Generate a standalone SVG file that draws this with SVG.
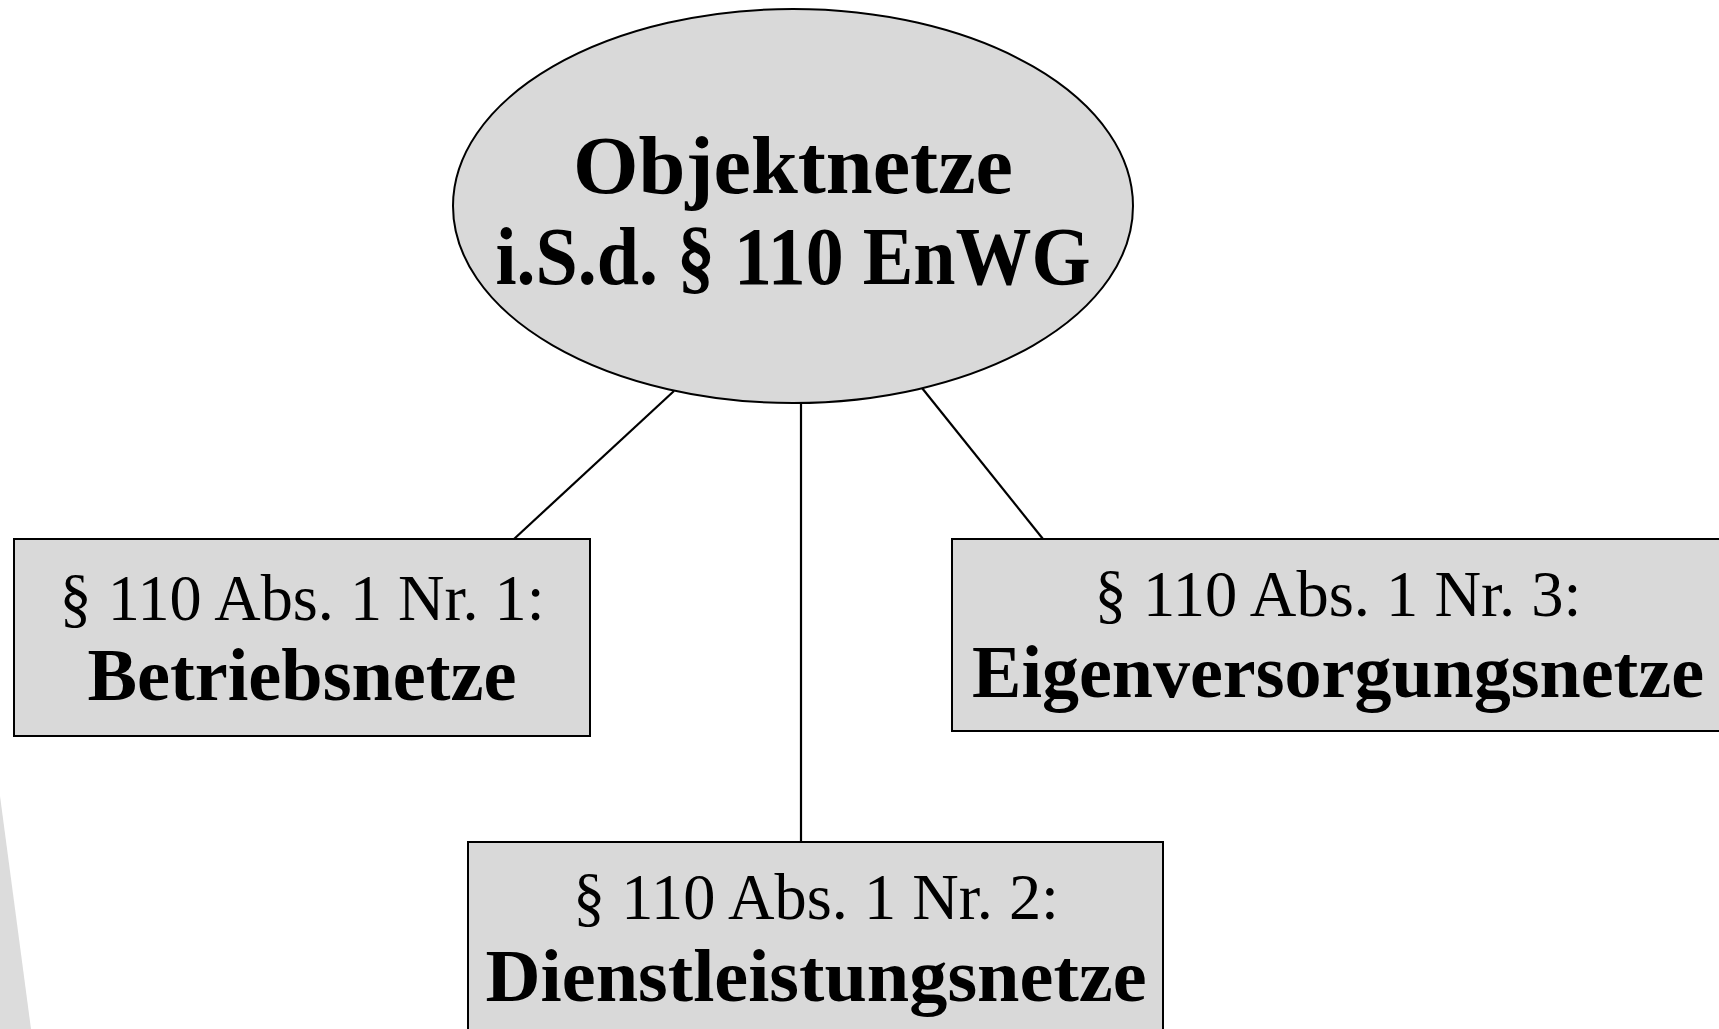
<svg xmlns="http://www.w3.org/2000/svg" width="1719" height="1029" viewBox="0 0 1719 1029">
<style>
.shape{fill:#d9d9d9;stroke:#000;stroke-width:2}
.t{font-family:"Liberation Serif","DejaVu Serif",serif;fill:#000;text-anchor:middle}
.p{font-size:66px}
.b{font-size:74px;font-weight:bold}
.h{font-size:82px;font-weight:bold}
.conn line{stroke:#000;stroke-width:2.2}
</style>
<rect width="1719" height="1029" fill="#fff"/>
<polygon points="0,796 31,1029 0,1029" fill="#dcdcdc"/>
<g id="connectors" class="conn">
<line x1="674" y1="391" x2="514" y2="539"/>
<line x1="801" y1="403" x2="801" y2="842"/>
<line x1="922" y1="388" x2="1043" y2="539"/>
</g>
<g id="node-root">
<ellipse class="shape" cx="793" cy="206" rx="340" ry="197"/>
<text class="t h" x="793" y="193" textLength="440" lengthAdjust="spacingAndGlyphs">Objektnetze</text>
<text class="t h" x="793" y="284" textLength="595" lengthAdjust="spacingAndGlyphs">i.S.d. § 110 EnWG</text>
</g>
<g id="node-nr1">
<rect class="shape" x="14" y="539" width="576" height="197"/>
<text class="t p" x="302" y="620" textLength="485" lengthAdjust="spacingAndGlyphs">§ 110 Abs. 1 Nr. 1:</text>
<text class="t b" x="302" y="700" textLength="429" lengthAdjust="spacingAndGlyphs">Betriebsnetze</text>
</g>
<g id="node-nr3">
<rect class="shape" x="952" y="539" width="780" height="192"/>
<text class="t p" x="1338" y="616" textLength="487" lengthAdjust="spacingAndGlyphs">§ 110 Abs. 1 Nr. 3:</text>
<text class="t b" x="1338" y="697" textLength="732" lengthAdjust="spacingAndGlyphs">Eigenversorgungsnetze</text>
</g>
<g id="node-nr2">
<rect class="shape" x="468" y="842" width="695" height="200"/>
<text class="t p" x="816" y="919" textLength="486" lengthAdjust="spacingAndGlyphs">§ 110 Abs. 1 Nr. 2:</text>
<text class="t b" x="816" y="1001" textLength="661" lengthAdjust="spacingAndGlyphs">Dienstleistungsnetze</text>
</g>
</svg>
